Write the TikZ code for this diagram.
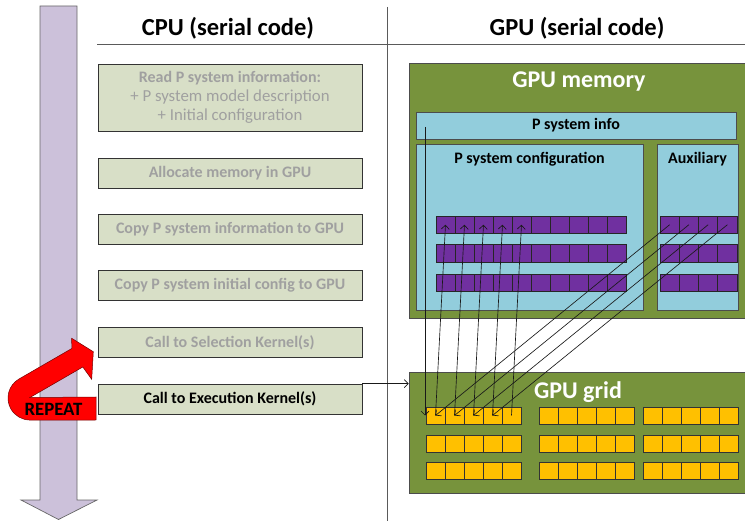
\documentclass[tikz,border=0pt]{standalone}
\usepackage{fontspec}
\setmainfont{Carlito}
\usetikzlibrary{arrows.meta}
\definecolor{boxfill}{RGB}{216,223,199}
\definecolor{grtext}{RGB}{160,160,160}
\definecolor{arrowpurple}{RGB}{204,193,218}
\definecolor{gpugreen}{RGB}{119,147,60}
\definecolor{lblue}{RGB}{146,205,220}
\definecolor{cellpurple}{RGB}{112,48,160}
\definecolor{cellyellow}{RGB}{255,192,0}
\definecolor{sepgray}{RGB}{90,90,90}
\begin{document}
\begin{tikzpicture}[x=1pt,y=1pt,yscale=-1,
  cpubox/.style={draw=black!80, line width=0.9pt, fill=boxfill, minimum width=264pt, minimum height=30pt, inner sep=0pt, align=center, font=\fontsize{16}{19}\selectfont\bfseries},
  inactive/.style={text=grtext},
  title/.style={font=\fontsize{24.5}{28}\selectfont\bfseries, inner sep=0pt},
  bluebox/.style={draw=black!70, line width=0.6pt, fill=lblue, inner sep=0pt},
  boxlabel/.style={font=\fontsize{16}{18}\selectfont\bfseries, inner sep=0pt},
  greenbox/.style={draw=black!70, line width=0.6pt, fill=gpugreen, inner sep=0pt},
  pcell/.style={draw=black!85, line width=0.6pt, fill=cellpurple, minimum width=19pt, minimum height=17.5pt, inner sep=0pt},
  acell/.style={pcell, minimum width=19.25pt},
  ycell/.style={draw=black!80, line width=0.6pt, fill=cellyellow, minimum width=19pt, minimum height=17pt, inner sep=0pt},
  arr/.style={-{Straight Barb[length=4pt,width=8pt]}, line width=0.65pt, draw=black!90},
  sep/.style={draw=sepgray, line width=0.8pt}
]
\useasboundingbox (0,0) rectangle (745,521);

% separators
\draw[sep] (97,44) -- (745,44);
\draw[sep] (387,7) -- (387,521);

% big purple time arrow
\draw[draw=black!60, line width=0.7pt, fill=arrowpurple] (40,6) -- (77,6) -- (77,500) -- (97,500) -- (58.5,519.5) -- (21,500) -- (40,500) -- cycle;

% titles
\node[title] (cput) at (228,28.5) {CPU (serial code)};
\node[title] (gput) at (577,28.5) {GPU (serial code)};

% CPU boxes
\node[cpubox, minimum height=67pt] (read) at (230,97.5) {\textcolor{grtext}{Read P system information:}\\[0pt]\textcolor{grtext}{\mdseries\fontsize{16.8}{19}\selectfont + P system model description}\\[0pt]\textcolor{grtext}{\mdseries\fontsize{16.8}{19}\selectfont + Initial configuration}};
\node[cpubox, inactive] (alloc) at (230,173) {Allocate memory in GPU};
\node[cpubox, inactive] (copyinfo) at (230,229.5) {Copy P system information to GPU};
\node[cpubox, inactive] (copyinit) at (230,285.5) {Copy P system initial config to GPU};
\node[cpubox, inactive] (sel) at (230,342.5) {Call to Selection Kernel(s)};
\node[cpubox] (exec) at (230,399) {Call to Execution Kernel(s)};

% red repeat arrow
\draw[fill=red, draw=red!45!black, line width=0.5pt] (96,397) -- (30,397.5) -- (82.8,367) -- (91.7,379.3) -- (93.3,351.7) -- (71.7,338.3) -- (71.8,348.5) -- (19,379) arc[start angle=240, end angle=90, radius=22] -- (96,420) -- cycle;
\node[font=\fontsize{18.8}{21}\selectfont\bfseries, inner sep=0pt] (rep) at (53.5,409) {REPEAT};

% GPU memory
\node[greenbox, minimum width=341pt, minimum height=255pt] (mem) at (579.5,190.5) {};
\node[font=\fontsize{24}{27}\selectfont\bfseries, text=white, inner sep=0pt] (memt) at (579,82) {GPU memory};
\node[bluebox, minimum width=320pt, minimum height=27pt] (info) at (576,125.5) {};
\node[boxlabel] at (info.center) {P system info};
\node[bluebox, minimum width=227pt, minimum height=166pt] (conf) at (529.5,227) {};
\node[boxlabel] (conft) at (529.5,159) {P system configuration};
\node[bluebox, minimum width=81pt, minimum height=166pt] (aux) at (697.5,227) {};
\node[boxlabel] (auxt) at (697.5,159) {Auxiliary};

\foreach \r/\yy in {1/216,2/244.5,3/274} {
  \foreach \k in {1,...,10}
    \node[pcell] (c\r-\k) at ({436+19*(\k-0.5)},{\yy+8.75}) {};
  \foreach \k in {1,...,4}
    \node[acell] (a\r-\k) at ({660+19.25*(\k-0.5)},{\yy+8.75}) {};
}

% GPU grid
\node[greenbox, minimum width=341pt, minimum height=121pt] (grid) at (579.5,432.5) {};
\node[font=\fontsize{24}{27}\selectfont\bfseries, text=white, inner sep=0pt] (gridt) at (578,392) {GPU grid};
\foreach \g/\xx in {1/426,2/539,3/643} {
  \foreach \r/\yy in {1/407,2/435,3/462} {
    \foreach \k in {1,...,5}
      \node[ycell] (y\g-\r-\k) at ({\xx+19*(\k-0.5)},{\yy+8.5}) {};
  }
}

% connectors
\coordinate (infoS) at (425,127);
\draw[arr] (infoS) -- (infoS |- y1-1-1.center);
\foreach \k in {1,...,5}
  \draw[arr] (y1-1-\k.center) -- (c1-\k.center);
\foreach \k in {1,...,4}
  \draw[arr] (a1-\k.center) -- (y1-1-\k.center);
\draw[arr] (exec.north east) -- (exec.north east -| grid.west);
\end{tikzpicture}
\end{document}
